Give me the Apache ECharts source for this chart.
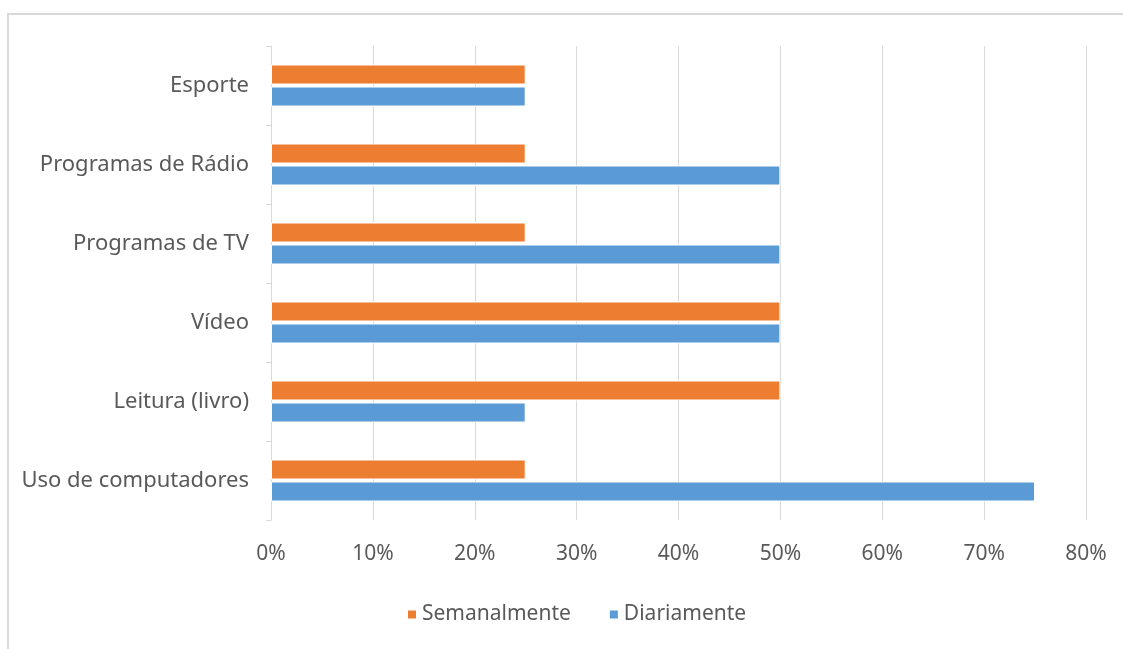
<!DOCTYPE html>
<html>
<head>
<meta charset="utf-8">
<script src="https://cdn.jsdelivr.net/npm/echarts@6/dist/echarts.min.js"></script>
<style>
  html, body { margin: 0; padding: 0; background: #fff; }
  #main { width: 1123px; height: 649px; }
</style>
</head>
<body>
<div id="main"></div>
<script>
// categories (bottom to top)
var categorias = ['Uso de computadores', 'Leitura (livro)', 'Vídeo', 'Programas de TV', 'Programas de Rádio', 'Esporte'];
// series values (%)
var semanalmente = [25, 50, 50, 25, 25, 25];
var diariamente = [75, 25, 50, 50, 50, 25];
var xTicks = [0, 10, 20, 30, 40, 50, 60, 70, 80];

var chart = echarts.init(document.getElementById('main'));
var textColor = '#595959';
var fonte = 'Noto Sans';

var option = {
  backgroundColor: '#ffffff',
  animation: false,
  graphic: [{
    type: 'rect',
    shape: { x: 8, y: 14, width: 1300, height: 800 },
    style: { fill: 'none', stroke: '#d9d9d9', lineWidth: 2 }
  }],
  legend: {
    data: ['Semanalmente', 'Diariamente'],
    left: 401,
    top: 599,
    icon: 'rect',
    itemWidth: 10,
    itemHeight: 10,
    itemGap: 37,
    textStyle: { color: textColor, fontSize: 21, fontFamily: fonte }
  },
  grid: { left: 271, right: 37, top: 46, bottom: 129, containLabel: false },
  xAxis: {
    type: 'value',
    min: xTicks[0],
    max: xTicks[xTicks.length - 1],
    interval: 10,
    axisLine: { show: false },
    axisTick: { show: false },
    splitLine: { lineStyle: { color: '#d9d9d9', width: 1 } },
    axisLabel: { formatter: '{value}%', color: textColor, fontSize: 21, fontFamily: fonte, margin: 24 }
  },
  yAxis: {
    type: 'category',
    data: categorias,
    axisLine: { lineStyle: { color: '#d9d9d9', width: 1 } },
    axisTick: { show: true, length: 5, lineStyle: { color: '#d9d9d9' } },
    axisLabel: { color: textColor, fontSize: 22, fontFamily: fonte, margin: 22 }
  },
  series: [{
    name: 'Semanalmente',
    type: 'bar',
    data: semanalmente,
    barWidth: 20,
    barGap: '10%',
    itemStyle: { color: '#ED7D31', borderColor: '#ffffff', borderWidth: 1 }
  }, {
    name: 'Diariamente',
    type: 'bar',
    data: diariamente,
    barWidth: 20,
    barGap: '10%',
    itemStyle: { color: '#5B9BD5', borderColor: '#ffffff', borderWidth: 1 }
  }]
};
chart.setOption(option);
</script>
</body>
</html>
